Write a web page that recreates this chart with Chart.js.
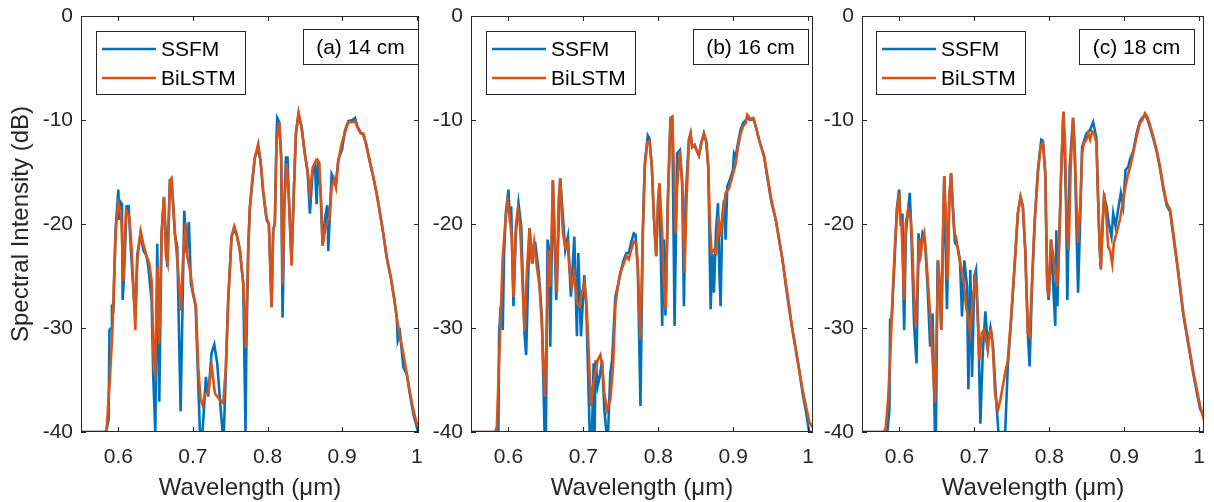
<!DOCTYPE html>
<html>
<head>
<meta charset="utf-8">
<title>SSFM vs BiLSTM spectra</title>
<script src="https://cdn.jsdelivr.net/npm/chart.js"></script>
<style>
  html, body { margin: 0; padding: 0; background: #fff; }
  #wrap { position: relative; width: 1214px; height: 502px; overflow: hidden; }
  #wrap canvas { position: absolute; top: 0; }
</style>
</head>
<body>
<div id="wrap">
  <canvas id="chartA" style="left:0px" width="430" height="502"></canvas>
  <canvas id="chartB" style="left:420px" width="400" height="502"></canvas>
  <canvas id="chartC" style="left:810px" width="404" height="502"></canvas>
</div>

<script>
// axis ticks, names, panel labels
const xTicks = [0.6, 0.7, 0.8, 0.9, 1];
const yTicks = [-40, -30, -20, -10, 0];
const seriesNames = ['SSFM', 'BiLSTM'];
const panelLabels = ['(a) 14 cm', '(b) 16 cm', '(c) 18 cm'];

// [wavelength (um), intensity (dB)]
const ssfmA = [[0.55,-40],[0.5835,-40],[0.587,-38.8],[0.5882,-30.2],[0.5905,-30],[0.5915,-28],[0.5935,-28.2],[0.596,-21],[0.6,-16.7],[0.6013,-19.6],[0.6031,-17.9],[0.6049,-18.1],[0.6058,-27.3],[0.6072,-25.6],[0.6112,-18.3],[0.6139,-18.3],[0.6165,-22],[0.621,-27.3],[0.6228,-28.9],[0.6254,-23],[0.6299,-20.9],[0.6335,-22.5],[0.6379,-23.1],[0.6402,-24.1],[0.6446,-27.3],[0.6469,-34.8],[0.6496,-40],[0.6522,-21.9],[0.6549,-37.1],[0.658,-20.9],[0.6612,-17.4],[0.6656,-24.1],[0.6692,-15.8],[0.6714,-15.8],[0.6759,-21],[0.679,-22.2],[0.6835,-38],[0.6884,-18.7],[0.6915,-22.8],[0.6946,-19.8],[0.6973,-25.7],[0.7036,-27.9],[0.7094,-40],[0.7129,-40],[0.7174,-34.7],[0.7205,-36.6],[0.725,-32.4],[0.7286,-31.6],[0.7326,-33.4],[0.7362,-36.9],[0.7397,-40],[0.7415,-40],[0.745,-32.1],[0.7473,-27.3],[0.7518,-21.2],[0.7554,-20.5],[0.7585,-21],[0.7629,-22.5],[0.7674,-25.7],[0.7705,-40],[0.7716,-32],[0.7741,-22.5],[0.7763,-18.4],[0.7799,-15.8],[0.783,-13.6],[0.7875,-12.8],[0.7906,-13.9],[0.7942,-17],[0.7987,-19.6],[0.8018,-20],[0.8054,-28],[0.8076,-20.6],[0.8098,-20],[0.8121,-11.5],[0.813,-9.8],[0.8157,-10.2],[0.8183,-13.6],[0.8201,-29],[0.821,-25.8],[0.8224,-18.4],[0.8246,-13.6],[0.8268,-13.6],[0.8282,-16.8],[0.8322,-23.5],[0.8353,-16.8],[0.838,-11.3],[0.8416,-9.4],[0.8456,-10.7],[0.8501,-13.3],[0.8537,-15],[0.8568,-19],[0.8604,-15],[0.8635,-14.3],[0.8658,-18.1],[0.8676,-14],[0.8711,-16.8],[0.8738,-22],[0.877,-19.5],[0.8801,-18.2],[0.8814,-22.6],[0.8859,-15.2],[0.889,-15.7],[0.8917,-16],[0.8949,-13.8],[0.9,-12.8],[0.9038,-11],[0.9083,-10.1],[0.9141,-10],[0.9172,-9.8],[0.9204,-10.6],[0.9248,-11.2],[0.9284,-11.4],[0.932,-12.3],[0.9374,-14.1],[0.9418,-15.5],[0.9463,-17.1],[0.9508,-19],[0.9553,-21],[0.9597,-23.2],[0.9651,-25.1],[0.9696,-27.1],[0.9732,-29],[0.9745,-31.2],[0.9776,-30.5],[0.9821,-33.8],[0.9866,-34.4],[0.9911,-36.5],[0.9955,-38.3],[1.0018,-40],[1.003,-40]];
const bilstmA = [[0.55,-40],[0.582,-40],[0.5844,-39.8],[0.5888,-34.7],[0.592,-30.5],[0.5946,-24.7],[0.5969,-20.3],[0.6,-18],[0.6031,-18.7],[0.6045,-20.3],[0.6067,-25.5],[0.6103,-18.7],[0.6147,-19.3],[0.6179,-22.5],[0.621,-27.3],[0.6228,-30.2],[0.6254,-23.5],[0.6299,-20.7],[0.6335,-21.9],[0.6379,-23.1],[0.6415,-23.8],[0.6446,-25.4],[0.6478,-34],[0.6491,-34.4],[0.6527,-24.1],[0.6549,-31.5],[0.658,-20.9],[0.6612,-17.4],[0.6638,-23.1],[0.6661,-23.8],[0.6692,-15.8],[0.6714,-15.6],[0.6759,-20.9],[0.6804,-24.7],[0.6839,-28.3],[0.6871,-22.8],[0.6906,-19.9],[0.6924,-23.1],[0.696,-24.4],[0.7004,-26.7],[0.704,-27.9],[0.7071,-33.7],[0.7103,-36.9],[0.7129,-37.4],[0.7161,-36.3],[0.7205,-36.3],[0.725,-33.6],[0.7295,-36.3],[0.7362,-36.9],[0.7406,-37.2],[0.7442,-33.7],[0.7473,-27.3],[0.7518,-21.2],[0.7554,-20.2],[0.7585,-20.9],[0.7629,-22.5],[0.7674,-25.7],[0.7709,-31.9],[0.7741,-22.5],[0.7763,-18.4],[0.7799,-15.5],[0.783,-13.6],[0.7875,-12.3],[0.7906,-13.9],[0.7942,-16.8],[0.7987,-19.4],[0.8018,-20],[0.8054,-28],[0.8076,-20.6],[0.8098,-20],[0.8121,-12],[0.8157,-10.2],[0.8183,-13.6],[0.8201,-25.8],[0.8224,-18.4],[0.8255,-14.2],[0.8282,-16.8],[0.8322,-24],[0.8353,-16.8],[0.838,-11.3],[0.8416,-9.3],[0.8456,-10.7],[0.8501,-13.3],[0.8537,-14.9],[0.8568,-17.1],[0.8604,-14.6],[0.8635,-14.1],[0.8667,-13.8],[0.8694,-14.1],[0.8711,-16.8],[0.8738,-22.1],[0.877,-20.6],[0.8801,-19.7],[0.8828,-19.5],[0.8859,-16.5],[0.889,-15.7],[0.8917,-16.5],[0.8949,-13.9],[0.8993,-12.3],[0.9038,-11.2],[0.9083,-10.2],[0.9141,-10.2],[0.9172,-10.1],[0.9204,-10.7],[0.9248,-11.3],[0.9284,-11.3],[0.932,-12.3],[0.9374,-14.1],[0.9418,-15.5],[0.9463,-17.1],[0.9508,-19],[0.9553,-21],[0.9597,-23.2],[0.9651,-25.1],[0.9696,-27.1],[0.9732,-29],[0.9776,-30.9],[0.9821,-32.5],[0.9866,-34.4],[0.9911,-36.3],[0.9955,-37.9],[1.0,-39.2],[1.003,-39.6]];

const ssfmB = [[0.55,-40],[0.5845,-40],[0.5866,-40],[0.5875,-30.5],[0.5897,-27.9],[0.5924,-30.2],[0.594,-23.1],[0.5964,-19],[0.6,-16.7],[0.6022,-19.9],[0.6036,-18.3],[0.6067,-27.9],[0.6098,-21],[0.6134,-18],[0.617,-20.2],[0.6214,-30.5],[0.6236,-32.6],[0.6281,-20.4],[0.6321,-23.8],[0.6343,-21.8],[0.6357,-21.8],[0.6401,-24.4],[0.6446,-28.9],[0.6482,-40],[0.65,-40],[0.6522,-21.5],[0.6544,-22.5],[0.6558,-31.8],[0.6593,-15.8],[0.6638,-27.3],[0.6691,-15.6],[0.6758,-22.5],[0.6794,-21.2],[0.6834,-27],[0.6879,-21.2],[0.6914,-30.8],[0.6932,-22.8],[0.6968,-30.8],[0.7012,-24.9],[0.7039,-27.9],[0.7084,-40],[0.7115,-40],[0.7137,-33.4],[0.715,-40],[0.7164,-33.1],[0.7191,-35.6],[0.7218,-34.7],[0.725,-33.1],[0.728,-37.9],[0.7307,-40],[0.733,-40],[0.736,-34.3],[0.7383,-33.1],[0.7427,-27],[0.7459,-26],[0.7494,-24.7],[0.7539,-23.4],[0.7575,-22.8],[0.7606,-22.8],[0.7637,-21.8],[0.7673,-20.9],[0.7695,-21],[0.7726,-24.1],[0.7762,-37.5],[0.7793,-20.9],[0.782,-14.2],[0.786,-11.5],[0.7882,-11.8],[0.7914,-14.5],[0.7941,-19.3],[0.7972,-23.1],[0.7998,-17.7],[0.8016,-16.1],[0.8052,-29.8],[0.8074,-21.5],[0.8096,-28.8],[0.8128,-17.7],[0.8163,-9.8],[0.8186,-9.7],[0.8208,-23.4],[0.8217,-29.8],[0.8252,-13.2],[0.8288,-12.9],[0.8319,-16.1],[0.8342,-27.9],[0.8364,-17.7],[0.8409,-11.9],[0.8431,-11.3],[0.8453,-12.6],[0.8484,-12.4],[0.8511,-12.9],[0.8542,-13.4],[0.8574,-12.2],[0.8609,-11.3],[0.8641,-12.1],[0.8667,-14.5],[0.8699,-28.2],[0.8721,-22.9],[0.8743,-26.6],[0.877,-20.6],[0.8797,-18],[0.8815,-24.7],[0.8832,-27.9],[0.8854,-19.3],[0.8877,-17.7],[0.8899,-21.5],[0.8921,-16.4],[0.8957,-15.7],[0.8997,-14.8],[0.9011,-13.2],[0.9033,-13.5],[0.9064,-12.2],[0.91,-10.9],[0.9131,-10.3],[0.9167,-10],[0.9189,-9.8],[0.9225,-10],[0.9269,-9.9],[0.9301,-10.6],[0.9345,-11.9],[0.9412,-13.5],[0.9457,-15.6],[0.951,-17.9],[0.9568,-19.6],[0.9613,-21.5],[0.9657,-23.4],[0.9702,-25.9],[0.9747,-28.2],[0.9791,-30.2],[0.9836,-32.1],[0.988,-34],[0.9925,-36.2],[0.997,-38],[1.0014,-40],[1.0065,-40]];
const bilstmB = [[0.55,-40],[0.5822,-40],[0.5845,-39.5],[0.5888,-30.5],[0.5924,-23.1],[0.5955,-20.2],[0.5987,-17.8],[0.6013,-19],[0.6045,-21.5],[0.6067,-27],[0.6098,-20.2],[0.6125,-18.6],[0.6156,-20.2],[0.6187,-25.7],[0.6214,-30.3],[0.6245,-24.7],[0.6281,-20.4],[0.6312,-23.8],[0.6343,-21.8],[0.6379,-24.1],[0.6415,-26],[0.6446,-29.8],[0.6468,-33.7],[0.6486,-36.6],[0.6504,-32.1],[0.6535,-22.5],[0.6558,-26],[0.6593,-15.8],[0.6624,-22.5],[0.6647,-26.6],[0.6669,-17.7],[0.6691,-15.6],[0.6727,-20.9],[0.6758,-22.2],[0.6789,-21.8],[0.6816,-24.4],[0.6847,-26],[0.6879,-24.7],[0.6914,-27.6],[0.695,-27.9],[0.6981,-26.6],[0.7012,-25.7],[0.7039,-27.3],[0.707,-32.1],[0.7102,-37.5],[0.7128,-35.6],[0.716,-34.3],[0.7191,-33.1],[0.7227,-32.6],[0.7253,-33.7],[0.728,-36.3],[0.7316,-37.9],[0.736,-36.9],[0.7396,-33.7],[0.7427,-27.9],[0.7459,-26],[0.7494,-24.7],[0.7539,-23.8],[0.7575,-23.1],[0.7606,-23.4],[0.7637,-22.5],[0.7673,-21.7],[0.7704,-21.8],[0.7726,-24.1],[0.7762,-31.1],[0.7793,-20.9],[0.782,-14.5],[0.7851,-12.2],[0.7882,-12],[0.7914,-14.5],[0.7941,-19.3],[0.7972,-23.1],[0.7998,-17.7],[0.8016,-16.1],[0.8052,-20.9],[0.8074,-26],[0.8101,-28.2],[0.8128,-17.7],[0.8163,-9.8],[0.8186,-9.7],[0.8208,-14.5],[0.823,-20.9],[0.8252,-16.4],[0.8288,-13],[0.8319,-16.1],[0.8351,-24.7],[0.8377,-17.7],[0.8409,-11.9],[0.8431,-11.3],[0.8453,-12.6],[0.8484,-12.4],[0.8511,-12.9],[0.8542,-13.4],[0.8574,-12.2],[0.8609,-11.3],[0.8641,-12.1],[0.8667,-14.5],[0.869,-20.2],[0.8712,-22.8],[0.8743,-22.5],[0.8774,-22.8],[0.8806,-19.3],[0.8832,-21.2],[0.8868,-18.6],[0.8899,-17],[0.8944,-16.6],[0.8988,-15.4],[0.9033,-14.2],[0.9064,-12.6],[0.91,-11.3],[0.9131,-10.6],[0.9167,-10.3],[0.9189,-9.5],[0.9225,-9.9],[0.9269,-9.8],[0.9301,-10.6],[0.9345,-11.9],[0.9412,-13.5],[0.9457,-15.4],[0.951,-17.7],[0.9568,-19.6],[0.9613,-21.5],[0.9657,-23.4],[0.9702,-25.7],[0.9747,-27.9],[0.9791,-30.2],[0.9836,-32.1],[0.988,-34],[0.9925,-35.9],[0.997,-37.5],[1.0015,-39],[1.0065,-39.6]];

const ssfmC = [[0.55,-40],[0.5839,-40],[0.5866,-37.9],[0.5875,-29.2],[0.5897,-29.2],[0.5911,-27],[0.5938,-23.1],[0.5964,-18.6],[0.5996,-16.7],[0.6018,-20.2],[0.604,-19],[0.6054,-27.3],[0.6063,-30.2],[0.6085,-20.9],[0.6116,-18.6],[0.6138,-17],[0.616,-21.2],[0.6196,-29.8],[0.6228,-33.4],[0.6254,-20.9],[0.6276,-22.8],[0.6308,-20.9],[0.6339,-21.5],[0.6375,-26],[0.641,-31.8],[0.6442,-28.6],[0.6473,-40],[0.6487,-40],[0.6509,-23.5],[0.6536,-26],[0.6558,-30.2],[0.6598,-15.4],[0.6634,-28.2],[0.6665,-17.7],[0.6688,-15.1],[0.6741,-21.8],[0.6777,-22.2],[0.6808,-23.5],[0.6835,-28.9],[0.6866,-23.5],[0.6902,-26],[0.692,-35.9],[0.6946,-24.4],[0.6969,-34.7],[0.7,-25],[0.7022,-24.4],[0.7054,-30.5],[0.708,-39.2],[0.7112,-32.4],[0.7147,-28.4],[0.7179,-31.8],[0.7214,-30],[0.7246,-31.5],[0.729,-36.9],[0.7321,-40],[0.7411,-40],[0.7446,-33.7],[0.7491,-29.2],[0.7536,-24.1],[0.758,-19],[0.7616,-17.4],[0.7647,-18.3],[0.7679,-22.5],[0.7714,-30.5],[0.7737,-33.7],[0.7768,-26.3],[0.7804,-19.9],[0.7848,-14.8],[0.7893,-11.9],[0.7915,-12],[0.7946,-15.1],[0.7973,-26],[0.7991,-27.3],[0.8027,-21.5],[0.8049,-25.5],[0.808,-29.8],[0.8094,-20.6],[0.8107,-27.9],[0.813,-22.2],[0.8161,-14.5],[0.8188,-9.2],[0.8223,-17.7],[0.8241,-27.3],[0.8272,-14.5],[0.8317,-9.8],[0.8339,-12.9],[0.8384,-26.6],[0.842,-17.7],[0.8438,-12.6],[0.8496,-11.3],[0.854,-11],[0.8585,-10.2],[0.8629,-11.7],[0.8652,-17.7],[0.8674,-22.5],[0.8688,-24.2],[0.8714,-19.6],[0.8732,-17.4],[0.8764,-18.3],[0.8795,-20],[0.883,-21.2],[0.8853,-19],[0.8884,-20.2],[0.891,-19],[0.8955,-17],[0.8986,-18.3],[0.9018,-14.8],[0.9054,-14.5],[0.9076,-13.8],[0.912,-13],[0.9165,-11.3],[0.921,-10.1],[0.9241,-9.8],[0.9277,-9.5],[0.9308,-9.9],[0.9344,-10.7],[0.9388,-11.8],[0.9433,-13],[0.9478,-14.7],[0.9522,-16.6],[0.9567,-18.2],[0.9612,-18.8],[0.9656,-21.2],[0.9701,-23.6],[0.9746,-26.2],[0.979,-28.8],[0.9835,-30.7],[0.988,-32.6],[0.9924,-34.5],[0.9969,-36.2],[1.0013,-37.8],[1.007,-38.5]];
const bilstmC = [[0.55,-40],[0.5795,-40],[0.5817,-39.6],[0.5848,-36.9],[0.5875,-33.1],[0.5906,-27.3],[0.5938,-22.2],[0.5973,-18.3],[0.5996,-17],[0.6009,-19.3],[0.6027,-19.9],[0.6063,-27.3],[0.6085,-19.9],[0.6116,-18.6],[0.6152,-19.6],[0.6174,-22.5],[0.6196,-27.3],[0.6219,-29.8],[0.6241,-26],[0.6263,-21.5],[0.6286,-22.8],[0.6308,-21.5],[0.633,-20.9],[0.6353,-22.8],[0.6384,-26],[0.642,-29.8],[0.6451,-34.3],[0.6473,-37.2],[0.6496,-30.5],[0.6518,-23.5],[0.654,-26],[0.6558,-30.2],[0.658,-20.9],[0.6598,-15.4],[0.6621,-19.3],[0.6643,-25.4],[0.6665,-17.7],[0.6688,-15.1],[0.671,-18.3],[0.6732,-20.9],[0.6754,-21.2],[0.6786,-22.8],[0.6821,-24.1],[0.6857,-25.4],[0.6888,-27.9],[0.692,-29.2],[0.6946,-30.5],[0.6978,-27.3],[0.7009,-25.4],[0.7036,-27.3],[0.7067,-33.1],[0.7098,-30.5],[0.7125,-30.2],[0.7156,-31.1],[0.7179,-32.1],[0.7201,-30.5],[0.7223,-30.2],[0.7246,-31.8],[0.7277,-36.3],[0.7313,-37.9],[0.7348,-36.9],[0.7379,-35.6],[0.7411,-34.3],[0.7446,-33.1],[0.7491,-28.9],[0.7536,-24.1],[0.758,-19],[0.7616,-17.4],[0.7647,-18.3],[0.7679,-22.5],[0.7714,-30.5],[0.7737,-30.8],[0.7768,-25.7],[0.7804,-19.9],[0.7848,-15.1],[0.7884,-12.5],[0.7915,-12.2],[0.7946,-15.1],[0.7973,-26],[0.7996,-27],[0.8018,-21.5],[0.8049,-22.8],[0.8071,-24.1],[0.8103,-26],[0.813,-22.2],[0.8161,-14.5],[0.8188,-9.2],[0.821,-11.9],[0.8232,-20.2],[0.8259,-22.5],[0.8286,-14.5],[0.8317,-9.8],[0.8339,-12.9],[0.8362,-17.7],[0.8384,-21.8],[0.8411,-18.6],[0.8438,-13.2],[0.8464,-12.2],[0.8496,-11.9],[0.8518,-11.3],[0.8545,-11.9],[0.8571,-11.1],[0.8598,-11.3],[0.8629,-12.2],[0.8652,-17.7],[0.8674,-22.5],[0.8688,-24.4],[0.8714,-19.6],[0.8732,-17],[0.8755,-18.6],[0.8786,-22.2],[0.8813,-22.6],[0.884,-23.8],[0.8862,-21.8],[0.8897,-20.9],[0.8942,-19.6],[0.8973,-18.3],[0.9009,-16.7],[0.9045,-15.4],[0.9076,-14.6],[0.912,-13.2],[0.9165,-11.6],[0.921,-10.3],[0.9241,-10],[0.9277,-9.35],[0.9308,-9.7],[0.9344,-10.5],[0.9388,-11.6],[0.9433,-12.9],[0.9478,-14.5],[0.9522,-16.4],[0.9567,-18],[0.9612,-18.6],[0.9656,-20.9],[0.9701,-23.4],[0.9746,-26],[0.979,-28.6],[0.9835,-30.5],[0.988,-32.4],[0.9924,-34.3],[0.9969,-35.9],[1.0013,-37.5],[1.007,-39]];

const FONT = "'Liberation Sans', Arial, Helvetica, sans-serif";
const INK = '#262626';
const BLUE = '#0072BD';
const ORANGE = '#D95319';

const toPoints = arr => arr.map(p => ({ x: p[0], y: p[1] }));

// MATLAB style box, inward ticks, legend and panel tag
const framePlugin = {
    id: 'frame',
    afterDatasetsDraw(chart, args, opts) {
        const { ctx, chartArea: a, scales: { x, y } } = chart;
        ctx.save();
        ctx.strokeStyle = INK;
        ctx.lineWidth = 1;
        ctx.strokeRect(a.left + 0.5, a.top + 0.5, a.right - a.left - 1, a.bottom - a.top - 1);

        ctx.beginPath();
        xTicks.forEach(v => {
            const px = Math.round(x.getPixelForValue(v)) + 0.5;
            ctx.moveTo(px, a.bottom); ctx.lineTo(px, a.bottom - 5);
            ctx.moveTo(px, a.top); ctx.lineTo(px, a.top + 5);
        });
        yTicks.forEach(v => {
            const py = Math.round(y.getPixelForValue(v)) + 0.5;
            ctx.moveTo(a.left, py); ctx.lineTo(a.left + 5, py);
            ctx.moveTo(a.right, py); ctx.lineTo(a.right - 5, py);
        });
        ctx.stroke();

        ctx.font = '21px ' + FONT;
        ctx.textBaseline = 'middle';

        // legend
        const lx = a.left + opts.legendDx, ly = a.top + 15;
        ctx.fillStyle = '#fff';
        ctx.fillRect(lx, ly, 149, 63);
        ctx.strokeStyle = INK;
        ctx.strokeRect(lx + 0.5, ly + 0.5, 149, 63);
        const colors = [BLUE, ORANGE];
        seriesNames.forEach((name, i) => {
            const yy = ly + 18 + i * 29;
            ctx.strokeStyle = colors[i];
            ctx.lineWidth = 2.6;
            ctx.beginPath();
            ctx.moveTo(lx + 6, yy); ctx.lineTo(lx + 60, yy);
            ctx.stroke();
            ctx.fillStyle = '#000';
            ctx.textAlign = 'left';
            ctx.fillText(name, lx + 65, yy + 1);
        });

        // panel tag
        const bw = 115, bh = 35;
        const bx = a.right - opts.tagDx - bw, by = a.top + 13;
        ctx.fillStyle = '#fff';
        ctx.fillRect(bx, by, bw, bh);
        ctx.strokeStyle = INK;
        ctx.lineWidth = 1;
        ctx.strokeRect(bx + 0.5, by + 0.5, bw, bh);
        ctx.fillStyle = '#000';
        ctx.textAlign = 'center';
        ctx.fillText(opts.tag, bx + bw / 2, by + bh / 2 + 2);
        ctx.restore();
    }
};

function makeChart(id, ssfm, bilstm, cfg) {
    const tickFont = { family: FONT, size: 21 };
    const titleFont = { family: FONT, size: 24, lineHeight: 1.1 };
    return new Chart(document.getElementById(id), {
        type: 'line',
        data: {
            datasets: [
                { label: seriesNames[0], data: toPoints(ssfm), borderColor: BLUE, borderWidth: 2.6, pointRadius: 0, tension: 0, order: 2 },
                { label: seriesNames[1], data: toPoints(bilstm), borderColor: ORANGE, borderWidth: 2.6, pointRadius: 0, tension: 0, order: 1 }
            ]
        },
        options: {
            responsive: false,
            animation: false,
            layout: { padding: { top: 16, right: cfg.padRight, bottom: 0, left: 0 } },
            plugins: {
                legend: { display: false },
                tooltip: { enabled: false },
                frame: { legendDx: cfg.legendDx, tagDx: cfg.tagDx, tag: cfg.tag }
            },
            scales: {
                x: {
                    type: 'linear',
                    min: 0.55,
                    max: cfg.xMax,
                    afterBuildTicks: s => { s.ticks = xTicks.map(v => ({ value: v })); },
                    afterFit: s => { s.height = 70; s.paddingLeft = 0; s.paddingRight = 0; },
                    grid: { display: false, drawTicks: false },
                    border: { display: false },
                    ticks: { font: tickFont, color: INK, padding: 13, maxRotation: 0, autoSkip: false, callback: v => String(v) },
                    title: { display: true, text: 'Wavelength (μm)', font: titleFont, color: INK, padding: { top: 0, bottom: 0 } }
                },
                y: {
                    min: -40,
                    max: 0,
                    afterBuildTicks: s => { s.ticks = yTicks.map(v => ({ value: v })); },
                    afterFit: s => { s.width = cfg.yWidth; s.paddingTop = 0; s.paddingBottom = 0; },
                    grid: { display: false, drawTicks: false },
                    border: { display: false },
                    ticks: { font: tickFont, color: INK, padding: 8, callback: v => String(v) },
                    title: { display: cfg.yTitle, text: 'Spectral Intensity (dB)', font: titleFont, color: INK, padding: { top: 8, bottom: 0 } }
                }
            }
        },
        plugins: [framePlugin]
    });
}

makeChart('chartA', ssfmA, bilstmA, { xMax: 1.003, yWidth: 81, padRight: 11, legendDx: 15, tagDx: 1, tag: panelLabels[0], yTitle: true });
makeChart('chartB', ssfmB, bilstmB, { xMax: 1.0065, yWidth: 51, padRight: 7, legendDx: 15, tagDx: 5, tag: panelLabels[1], yTitle: false });
makeChart('chartC', ssfmC, bilstmC, { xMax: 1.0065, yWidth: 52, padRight: 10, legendDx: 14, tagDx: 10, tag: panelLabels[2], yTitle: false });
</script>
</body>
</html>
